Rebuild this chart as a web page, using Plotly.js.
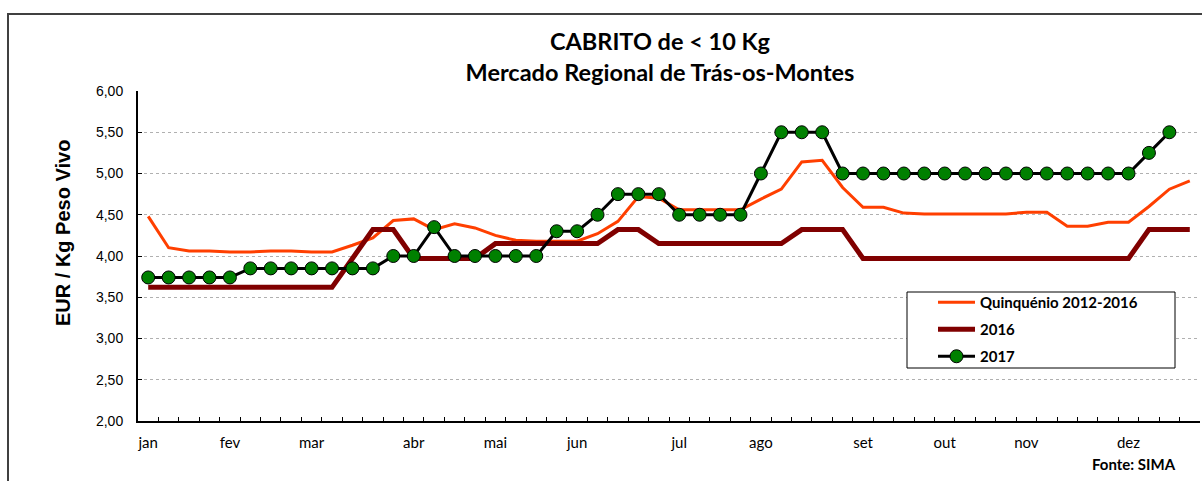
<!DOCTYPE html>
<html>
<head>
<meta charset="utf-8">
<script src="https://cdn.plot.ly/plotly-3.0.1.min.js"></script>
<style>html,body{margin:0;padding:0;background:#fff}#chart{width:1202px;height:481px}</style>
</head>
<body>
<div id="chart"></div>
<script>
// ---- data ----
const weeks = [1,2,3,4,5,6,7,8,9,10,11,12,13,14,15,16,17,18,19,20,21,22,23,24,25,26,
               27,28,29,30,31,32,33,34,35,36,37,38,39,40,41,42,43,44,45,46,47,48,49,50,51,52];
const monthLabels = ["jan","fev","mar","abr","mai","jun","jul","ago","set","out","nov","dez"];
const monthWeeks  = [1,5,9,14,18,22,27,31,36,40,44,49];
const quinquenio = [4.48,4.10,4.06,4.06,4.05,4.05,4.06,4.06,4.05,4.05,
                    4.13,4.22,4.43,4.45,4.32,4.39,4.34,4.25,4.19,4.18,
                    4.18,4.18,4.27,4.42,4.72,4.70,4.56,4.56,4.56,4.56,
                    4.69,4.81,5.14,5.16,4.83,4.59,4.59,4.52,4.51,4.51,
                    4.51,4.51,4.51,4.53,4.53,4.36,4.36,4.41,4.41,4.60,
                    4.81,4.91];
const y2016 = [3.62,3.62,3.62,3.62,3.62,3.62,3.62,3.62,3.62,3.62,
               3.97,4.32,4.32,3.97,3.97,3.97,3.97,4.15,4.15,4.15,
               4.15,4.15,4.15,4.32,4.32,4.15,4.15,4.15,4.15,4.15,
               4.15,4.15,4.32,4.32,4.32,3.97,3.97,3.97,3.97,3.97,
               3.97,3.97,3.97,3.97,3.97,3.97,3.97,3.97,3.97,4.32,
               4.32,4.32];
const y2017 = [3.74,3.74,3.74,3.74,3.74,3.85,3.85,3.85,3.85,3.85,
               3.85,3.85,4.00,4.00,4.35,4.00,4.00,4.00,4.00,4.00,
               4.30,4.30,4.50,4.75,4.75,4.75,4.50,4.50,4.50,4.50,
               5.00,5.50,5.50,5.50,5.00,5.00,5.00,5.00,5.00,5.00,
               5.00,5.00,5.00,5.00,5.00,5.00,5.00,5.00,5.00,5.25,
               5.50,null];
const seriesNames = ["Quinquénio 2012-2016","2016","2017"];
const yTickVals = [2.0,2.5,3.0,3.5,4.0,4.5,5.0,5.5,6.0];

// ---- geometry ----
const W = 1202, H = 481;
const mL = 138, mR = 2, mT = 91, mB = 60;
const pw = W - mL - mR, ph = H - mT - mB;
const px = x => (x - mL) / pw;        // pixel -> paper x
const py = y => (H - mB - y) / ph;    // pixel -> paper y
const boundaries = weeks.map(w => w - 0.5).concat([weeks[weeks.length-1] + 0.5]);
const xr = [boundaries[0], boundaries[boundaries.length-1]];

const traces = [
  {x: weeks, y: quinquenio, name: "<b>" + seriesNames[0] + "</b>", type: "scatter", mode: "lines",
   line: {color: "#FF3F00", width: 3}, legendgroup: "a", hoverinfo: "skip"},
  {x: weeks, y: y2016, name: "<b>" + seriesNames[1] + "</b>", type: "scatter", mode: "lines",
   line: {color: "#800000", width: 5}, legendgroup: "b", hoverinfo: "skip"},
  {x: weeks, y: y2017, name: "<b>" + seriesNames[2] + "</b>", type: "scatter", mode: "lines+markers",
   line: {color: "#000000", width: 3},
   marker: {color: "#008000", size: 13, line: {color: "#000000", width: 1}},
   legendgroup: "c", hoverinfo: "skip"},
  {x: monthWeeks, y: monthWeeks.map(() => null), xaxis: "x2", yaxis: "y", type: "scatter",
   mode: "lines", showlegend: false, hoverinfo: "skip"}
];

const layout = {
  width: W, height: H,
  margin: {l: mL, r: mR, t: mT, b: mB, pad: 0},
  paper_bgcolor: "#ffffff", plot_bgcolor: "#ffffff",
  separators: ", ",
  showlegend: true,
  title: {
    text: "CABRITO de &lt; 10 Kg<br>Mercado Regional de Trás-os-Montes",
    font: {family: "Lato", size: 23.5, color: "#000000", weight: "bold"},
    x: 660 / W, xanchor: "center", xref: "container",
    y: 1 - 50 / H, yanchor: "top", yref: "container"
  },
  xaxis: {
    type: "linear", range: xr, tickmode: "array", tickvals: boundaries,
    showticklabels: false, ticks: "inside", ticklen: 4, tickwidth: 1, tickcolor: "#000",
    showline: true, linecolor: "#000", linewidth: 2, showgrid: false, zeroline: false, fixedrange: true
  },
  xaxis2: {
    type: "linear", overlaying: "x", anchor: "y", side: "bottom", range: xr,
    tickmode: "array", tickvals: monthWeeks, ticktext: monthLabels,
    ticks: "", showline: false, showgrid: false, zeroline: false,
    tickfont: {family: "Lato", size: 15, color: "#000"}, ticklabelstandoff: 11, fixedrange: true
  },
  yaxis: {
    range: [2, 6], tickmode: "array", tickvals: yTickVals, tickformat: ".2f",
    ticks: "inside", ticklen: 4, tickwidth: 1, tickcolor: "#000",
    showline: true, linecolor: "#000", linewidth: 2,
    showgrid: true, gridcolor: "#b0b0b0", griddash: "dot", gridwidth: 1, zeroline: false,
    tickfont: {family: "Liberation Sans", size: 14, color: "#000"}, ticklabelstandoff: 10, fixedrange: true
  },
  legend: {
    x: px(913), y: py(286), xanchor: "left", yanchor: "top",
    bgcolor: "rgba(0,0,0,0)", borderwidth: 0,
    font: {family: "Lato", size: 15, color: "#000"},
    traceorder: "grouped", tracegroupgap: 4.5, indentation: 20, itemwidth: 37
  },
  annotations: [
    {text: "<b>EUR / Kg Peso Vivo</b>", textangle: -90, xref: "paper", yref: "paper",
     x: px(63), y: py(233), xanchor: "center", yanchor: "middle", showarrow: false,
     font: {family: "Liberation Sans", size: 20, color: "#000"}},
    {text: "<b>Fonte: SIMA</b>", xref: "paper", yref: "paper",
     x: px(1178), y: py(464), xanchor: "right", yanchor: "middle", showarrow: false,
     font: {family: "Lato", size: 15, color: "#000"}}
  ],
  shapes: [
    {type: "rect", xref: "paper", yref: "paper", x0: px(907), x1: px(1175), y0: py(368), y1: py(292),
     line: {color: "#000000", width: 1}, fillcolor: "#ffffff", layer: "above"},
    {type: "rect", xref: "paper", yref: "paper", x0: px(8), x1: px(1260), y0: py(520), y1: py(14),
     line: {color: "#404040", width: 2}, fillcolor: "rgba(0,0,0,0)", layer: "above"}
  ]
};

Plotly.newPlot("chart", traces, layout, {displayModeBar: false, staticPlot: true});
</script>
</body>
</html>
